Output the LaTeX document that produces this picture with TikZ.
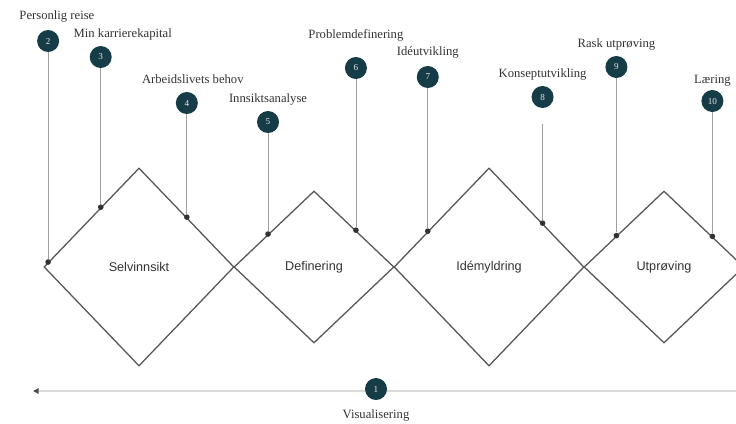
\documentclass[tikz,border=0pt]{standalone}
\usepackage{fontspec}
\setmainfont{Liberation Serif}
\newfontfamily\phasefont{Liberation Sans}
\usetikzlibrary{positioning, shapes.geometric, calc, arrows.meta}

\definecolor{stepteal}{RGB}{22,60,72}
\definecolor{pingray}{RGB}{160,160,160}
\definecolor{edgegray}{RGB}{85,85,85}
\definecolor{timegray}{RGB}{218,218,218}

\begin{document}
\begin{tikzpicture}[
    x=0.025cm, y=-0.025cm,
    phase/.style={draw=edgegray, line width=0.9pt, diamond, inner sep=0pt, font=\phasefont\small, text=black!80}, % Style for phases
    bigphase/.style={phase, minimum width=4.75cm, minimum height=4.95cm},
    smallphase/.style={phase, minimum width=4cm, minimum height=3.8cm},
    stepdot/.style={circle, fill=stepteal, minimum size=0.55cm, inner sep=0pt, text=white!80!gray, font=\fontsize{6.5}{7}\selectfont}, % Numbered circles
    pinend/.style={circle, fill=black!80, inner sep=0pt, minimum size=4pt},
    pin/.style={draw=pingray, line width=0.6pt},
    steplabel/.style={font=\fontsize{9}{10}\selectfont, text=black!80, inner sep=0pt, text height=1.6ex, text depth=0.3ex},
    timeline/.style={draw=timegray, line width=1.4pt, -{Triangle[length=4pt, width=4pt, color=black!70]}}
]

% Canvas
\useasboundingbox (0,0) rectangle (736,423);
\clip (0,0) rectangle (736,423);

% Phases (diamonds)
\node[bigphase] (sel) at (139,267) {Selvinnsikt};
\node[smallphase] (def) at (314,267) {Definering};
\node[bigphase] (ide) at (489,267) {Idémyldring};
\node[smallphase] (utp) at (664,267) {Utprøving};

% Pin ends on the diamond edges
\node[pinend] (p2) at ($(sel.west)!0.05!(sel.north)$) {};
\node[pinend] (p3) at ($(sel.west)!0.6!(sel.north)$) {};
\node[pinend] (p4) at ($(sel.north)!0.5!(sel.east)$) {};
\node[pinend] (p5) at ($(def.west)!0.43!(def.north)$) {};
\node[pinend] (p6) at ($(def.north)!0.52!(def.east)$) {};
\node[pinend] (p7) at ($(ide.west)!0.36!(ide.north)$) {};
\node[pinend] (p8) at ($(ide.north)!0.56!(ide.east)$) {};
\node[pinend] (p9) at ($(utp.west)!0.41!(utp.north)$) {};
\node[pinend] (p10) at ($(utp.north)!0.6!(utp.east)$) {};

% Numbered steps
\node[stepdot] (c2) at (p2 |- 0,41) {2};
\node[stepdot] (c3) at (p3 |- 0,57) {3};
\node[stepdot] (c4) at (p4 |- 0,103) {4};
\node[stepdot] (c5) at (p5 |- 0,122) {5};
\node[stepdot] (c6) at (p6 |- 0,68) {6};
\node[stepdot] (c7) at (p7 |- 0,77) {7};
\node[stepdot] (c8) at (p8 |- 0,97) {8};
\node[stepdot] (c9) at (p9 |- 0,67) {9};
\node[stepdot] (c10) at (p10 |- 0,101) {10};

% Pins
\draw[pin] (c2) -- (p2);
\draw[pin] (c3) -- (p3);
\draw[pin] (c4) -- (p4);
\draw[pin] (c5) -- (p5);
\draw[pin] (c6) -- (p6);
\draw[pin] (c7) -- (p7);
\draw[pin, shorten <=0.4cm] (c8) -- (p8);
\draw[pin] (c9) -- (p9);
\draw[pin] (c10) -- (p10);

% Step labels
\node[steplabel, above=0.19cm of c2, xshift=0.22cm] (l2) {Personlig reise};
\node[steplabel, above=0.14cm of c3, xshift=0.55cm] (l3) {Min karrierekapital};
\node[steplabel, above=0.14cm of c4, xshift=0.15cm] (l4) {Arbeidslivets behov};
\node[steplabel, above=0.14cm of c5] (l5) {Innsiktsanalyse};
\node[steplabel, above=0.39cm of c6] (l6) {Problemdefinering};
\node[steplabel, above=0.19cm of c7] (l7) {Idéutvikling};
\node[steplabel, above=0.14cm of c8] (l8) {Konseptutvikling};
\node[steplabel, above=0.14cm of c9] (l9) {Rask utprøving};
\node[steplabel, above=0.09cm of c10] (l10) {Læring};

% Timeline
\coordinate (tl-left) at (33,391);
\coordinate (tl-right) at (740,391);
\draw[timeline] (tl-right) -- (tl-left);
\node[stepdot] (c1) at (376,389) {1};
\node[steplabel, below=0.19cm of c1] (l1) {Visualisering};

\end{tikzpicture}
\end{document}
